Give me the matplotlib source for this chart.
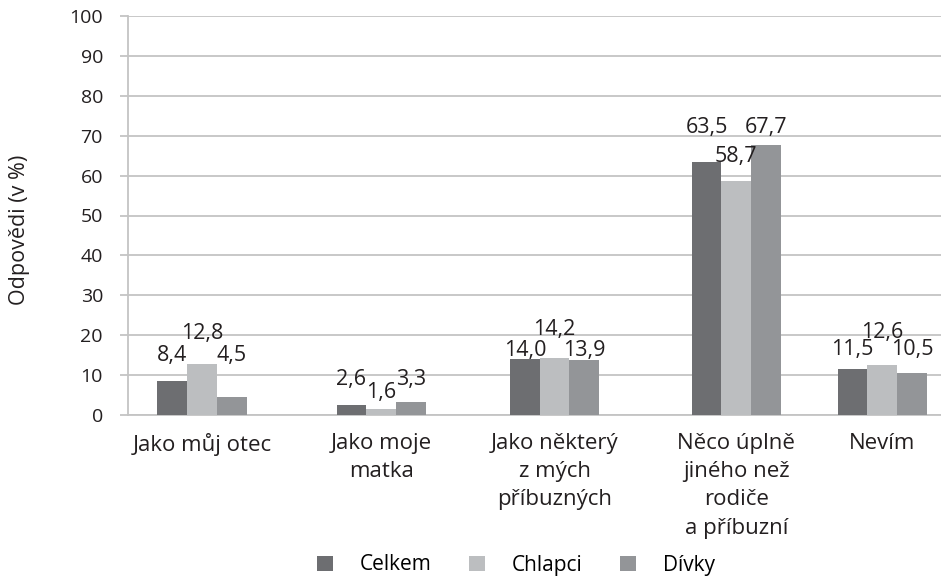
import matplotlib
matplotlib.use("Agg")
import matplotlib.pyplot as plt
from matplotlib.patches import Patch
import numpy as np

categories = ["Jako můj otec", "Jako moje\nmatka", "Jako některý\nz mých\npříbuzných",
              "Něco úplně\njiného než\nrodiče\na příbuzní", "Nevím"]
series_names = ["Celkem", "Chlapci", "Dívky"]
celkem = [8.4, 2.6, 14.0, 63.5, 11.5]
chlapci = [12.8, 1.6, 14.2, 58.7, 12.6]
divky = [4.5, 3.3, 13.9, 67.7, 10.5]
yticks = [0, 10, 20, 30, 40, 50, 60, 70, 80, 90, 100]

# layout (category centres and label heights, in axis units)
cat_pos = [0.0, 1.006, 1.98, 3.0, 3.82]
label_y = [[15.0, 20.5, 15.0],
           [9.0, 5.6, 9.0],
           [16.1, 21.4, 16.1],
           [72.0, 64.8, 72.0],
           [16.3, 20.8, 16.3]]
colors = ["#6d6e71", "#bcbec0", "#939598"]

plt.rcParams['font.family'] = ['Open Sans', 'DejaVu Sans']
txt = "#231f20"

fig = plt.figure(figsize=(9.41, 5.77), dpi=100)
ax = fig.add_axes([128/941, 1 - 415/577, (941-128)/941, (415-16)/577])

w = 0.167
x = np.array(cat_pos)
data = [celkem, chlapci, divky]
for i, (vals, col) in enumerate(zip(data, colors)):
    xs = x + (i - 1) * w
    ax.bar(xs, vals, width=w, color=col, zorder=3, linewidth=0)
    for j, v in enumerate(vals):
        ax.text(xs[j], label_y[j][i], f"{v:.1f}".replace(".", ","), ha="center", va="center",
                fontsize=15.5, color=txt, zorder=4)

ax.set_xlim(-0.416, 4.15)
ax.set_ylim(0, 100)
ax.set_yticks(yticks)
ax.set_yticklabels([str(t) for t in yticks], fontsize=14, color=txt)
ax.yaxis.grid(True, color="#c4c4c4", linewidth=1.3, zorder=0)
ax.tick_params(axis="y", length=6, width=1.3, color="#c4c4c4", pad=12)
ax.set_xticks(x)
ax.set_xticklabels(categories, fontsize=16, color=txt, linespacing=1.45)
ax.tick_params(axis="x", length=0, pad=13)
for s in ["top", "right"]:
    ax.spines[s].set_visible(False)
for s in ["left", "bottom"]:
    ax.spines[s].set_color("#c4c4c4")
    ax.spines[s].set_linewidth(1.3)
ax.set_axisbelow(True)

fig.text(20/941, 1 - 230/577, "Odpovědi (v %)", rotation=90, ha="center", va="center",
         fontsize=15.5, color=txt)

handles = [Patch(facecolor=c, edgecolor="none") for c in colors]
fig.legend(handles, series_names, loc="center", bbox_to_anchor=(516/941, 1 - 565/577),
           ncol=3, frameon=False, fontsize=15, handlelength=0.75, handleheight=0.75,
           handletextpad=1.3, columnspacing=1.8)

fig.savefig("out.png", dpi=100)
